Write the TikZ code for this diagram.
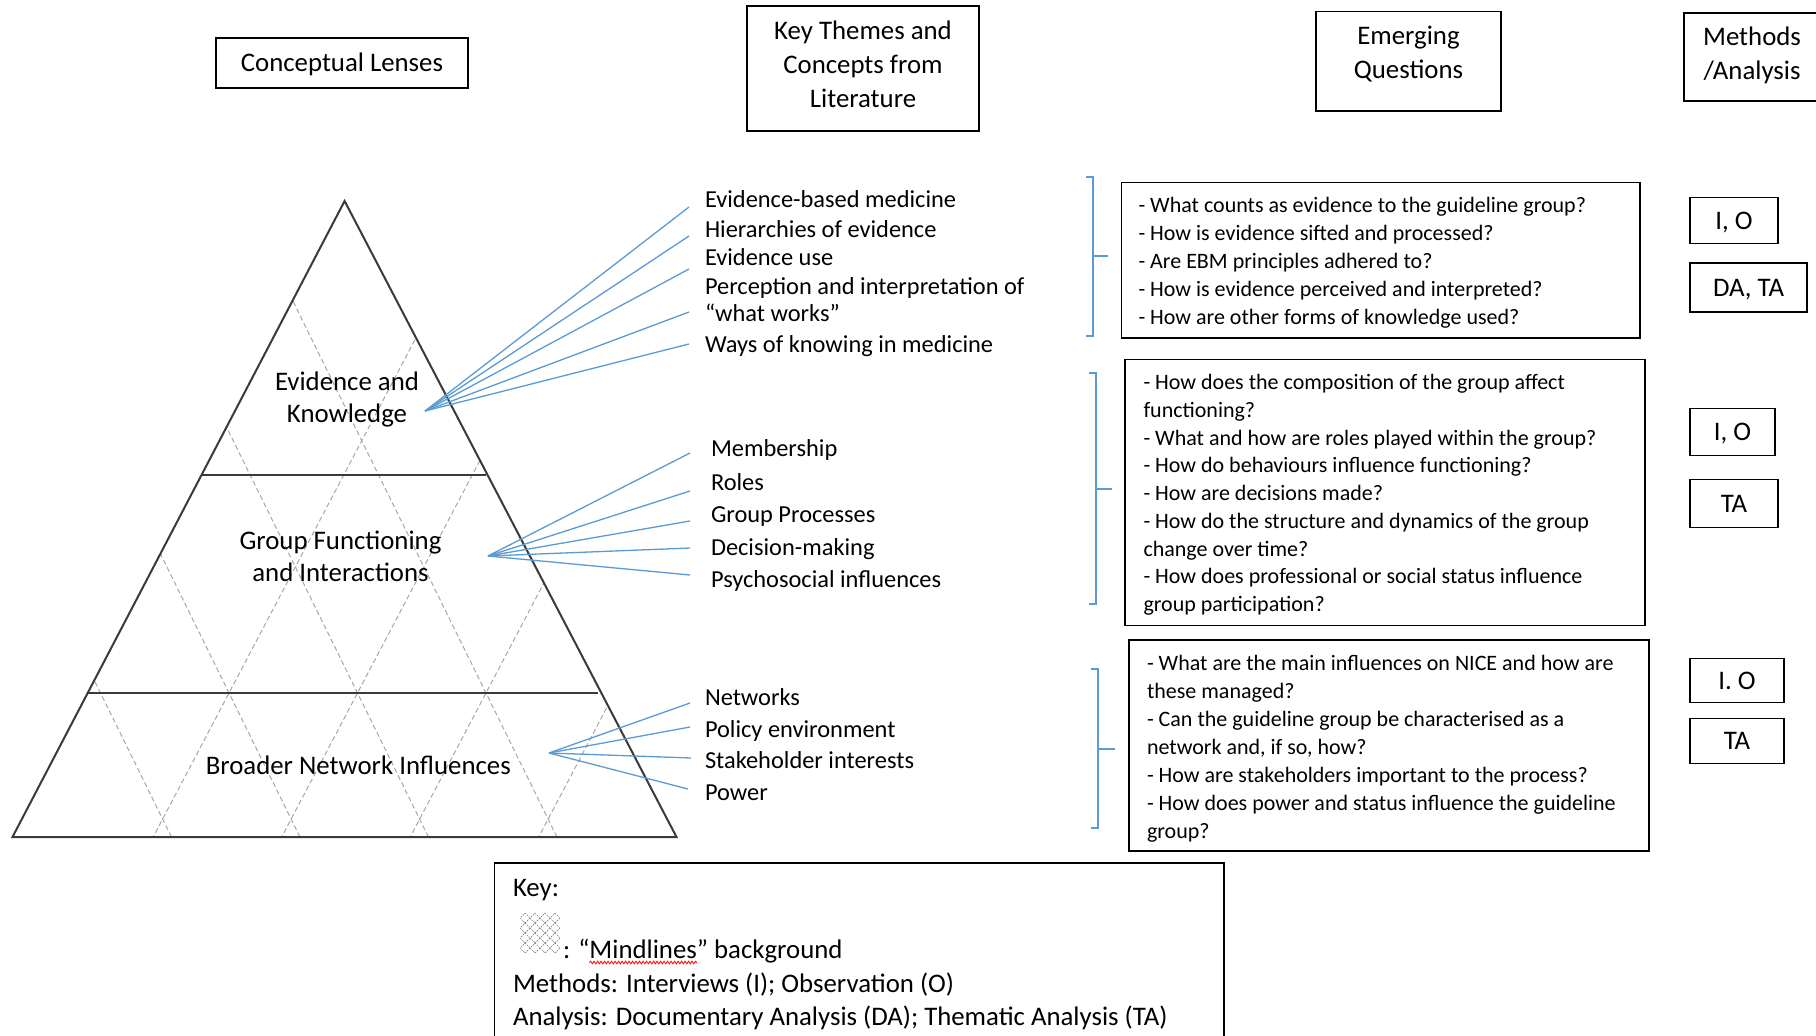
\documentclass[tikz,border=0pt]{standalone}
\usepackage{fontspec}
\setmainfont{Carlito}
\usetikzlibrary{calc,decorations.pathmorphing}

\definecolor{spokeblue}{HTML}{5B9BD5}
\definecolor{trigray}{HTML}{3A3A3A}
\definecolor{meshgray}{HTML}{A8A8A8}

% type sizes (1pt = 1 unit of the drawing grid)
\newcommand{\fontHead}{\fontsize{26.8}{34}\selectfont}
\newcommand{\fontQuest}{\fontsize{22}{27.9}\selectfont}
\newcommand{\fontTheme}{\fontsize{24.4}{30}\selectfont}

\begin{document}
\begin{tikzpicture}[x=1pt,y=-1pt,
  every node/.style={inner sep=0pt, outer sep=0pt},
  boxframe/.style={draw=black, line width=1.5pt},
  capbox/.style={text height=17.6pt, text depth=0pt},
  headtext/.style={font=\fontHead, align=center},
  methodbox/.style={boxframe, capbox, font=\fontHead},
  qline/.style={font=\fontQuest, anchor=base west},
  themeitem/.style={font=\fontTheme, anchor=base west},
  lenstext/.style={font=\fontsize{26.8}{32}\selectfont, align=center},
  keyline/.style={font=\fontHead, anchor=base west},
  triline/.style={draw=trigray, line width=2pt, line join=miter},
  bandline/.style={draw=trigray, line width=2pt},
  meshline/.style={draw=meshgray, line width=1pt, dash pattern=on 5pt off 3pt},
  spoke/.style={draw=spokeblue, line width=1.3pt},
  bracketline/.style={draw=spokeblue, line width=1.4pt},
  keymesh/.style={draw=gray, line width=0.7pt, dash pattern=on 1.5pt off 1pt},
]
\useasboundingbox (0,0) rectangle (1816,1036);
\fill[white] (0,0) rectangle (1816,1036);

% ---------------- headings ----------------
\node[boxframe, capbox, minimum width=252pt, minimum height=50pt, font=\fontHead] (hlens) at (342,63) {Conceptual Lenses};
\node[boxframe, minimum width=232pt, minimum height=125pt] (hlitbox) at (863,68.5) {};
\node[headtext] (hlit) at (863,64.5) {Key Themes and\\Concepts from\\Literature};
\node[boxframe, minimum width=185pt, minimum height=99.6pt] (hquebox) at (1408.5,61.4) {};
\node[headtext] (hque) at (1408.5,54) {Emerging\\Questions};
\node[boxframe, minimum width=136pt, minimum height=88pt] (hmetbox) at (1752,57) {};
\node[headtext] (hmet) at (1752,55.5) {Methods\\/Analysis};

% ---------------- pyramid ----------------
\coordinate (apex) at (344.6,201);
\coordinate (bl) at (12.5,837);
\coordinate (br) at (676.5,837);

% "mindlines" mesh behind the pyramid
\begin{scope}
  \clip (apex) -- (bl) -- (br) -- cycle;
  \foreach \x in {100.5,229,357.5,486}
    \draw[meshline] ({\x-344.8},-7) -- ({\x+147.8},993);
  \foreach \x in {229,357.5,486,614.5}
    \draw[meshline] ({\x+368.4},-7) -- ({\x-157.9},993);
\end{scope}

\draw[triline] (apex) -- (bl) -- (br) -- cycle;
\draw[bandline, shorten >=2pt] ($(apex)!0.4314!(bl)$) -- ($(apex)!0.4314!(br)$);
\draw[bandline, shorten >=3pt] ($(apex)!0.7736!(bl)$) -- ($(apex)!0.7736!(br)$);

\node[lenstext] (lensA) at (347,399) {Evidence and\\Knowledge};
\node[lenstext] (lensB) at (340.5,556) {Group Functioning\\and Interactions};
\node[lenstext] (lensC) at (358.3,765) {Broader Network Influences};

% ---------------- themes ----------------
\node[themeitem] (tA1) at (705,207.5) {Evidence-based medicine};
\node[themeitem] (tA2) at (705,237.3) {Hierarchies of evidence};
\node[themeitem] (tA3) at (705,265.9) {Evidence use};
\node[themeitem] (tA4) at (705,294.3) {Perception and interpretation of};
\node[themeitem] (tA5) at (705,321.8) {“what works”};
\node[themeitem] (tA6) at (705,352.3) {Ways of knowing in medicine};

\node[themeitem] (tB1) at (711,456.5) {Membership};
\node[themeitem] (tB2) at (711,490.1) {Roles};
\node[themeitem] (tB3) at (711,522.5) {Group Processes};
\node[themeitem] (tB4) at (711,555) {Decision-making};
\node[themeitem] (tB5) at (711,587.3) {Psychosocial influences};

\node[themeitem] (tC1) at (705,705.5) {Networks};
\node[themeitem] (tC2) at (705,737.9) {Policy environment};
\node[themeitem] (tC3) at (705,768.1) {Stakeholder interests};
\node[themeitem] (tC4) at (705,800.3) {Power};

% spokes from each lens to its themes
\coordinate (hubA) at (425,411);
\coordinate (hubB) at (488,556);
\coordinate (hubC) at (549,753);
\coordinate (eA1) at (689,207);
\coordinate (eA2) at (689,236);
\coordinate (eA3) at (689,269);
\coordinate (eA4) at (689,312);
\coordinate (eA5) at (689,344);
\coordinate (eB1) at (690,453);
\coordinate (eB2) at (690,491);
\coordinate (eB3) at (690,521);
\coordinate (eB4) at (690,548);
\coordinate (eB5) at (690,575);
\coordinate (eC1) at (690,703);
\coordinate (eC2) at (690,727);
\coordinate (eC3) at (691,758);
\coordinate (eC4) at (688,789);
\foreach \e in {eA1,eA2,eA3,eA4,eA5} \draw[spoke] (hubA) -- (\e);
\foreach \e in {eB1,eB2,eB3,eB4,eB5} \draw[spoke] (hubB) -- (\e);
\foreach \e in {eC1,eC2,eC3,eC4} \draw[spoke] (hubC) -- (\e);

% ---------------- brackets ----------------
\draw[bracketline] (1086,177) -- (1093,177) -- (1093,336) -- (1086,336);
\draw[bracketline] (1093,256) -- (1108,256);
\draw[bracketline] (1089,373) -- (1096,373) -- (1096,604) -- (1089,604);
\draw[bracketline] (1096,489) -- (1112,489);
\draw[bracketline] (1091,669) -- (1098,669) -- (1098,828) -- (1091,828);
\draw[bracketline] (1098,749) -- (1115,749);

% ---------------- questions ----------------
\node[boxframe, minimum width=518.5pt, minimum height=155.5pt] (qbox1) at (1380.75,260.25) {};
\node[boxframe, minimum width=520pt, minimum height=266pt] (qbox2) at (1385,492.5) {};
\node[boxframe, minimum width=520pt, minimum height=211pt] (qbox3) at (1389,745.5) {};

\foreach \t [count=\i] in {
  {- What counts as evidence to the guideline group?},
  {- How is evidence sifted and processed?},
  {- Are EBM principles adhered to?},
  {- How is evidence perceived and interpreted?},
  {- How are other forms of knowledge used?}}
  \node[qline] (qa\i) at (1138.5,{212.4+27.9*(\i-1)}) {\t};

\foreach \t [count=\i] in {
  {- How does the composition of the group affect},
  {functioning?},
  {- What and how are roles played within the group?},
  {- How do behaviours influence functioning?},
  {- How are decisions made?},
  {- How do the structure and dynamics of the group},
  {change over time?},
  {- How does professional or social status influence},
  {group participation?}}
  \node[qline] (qb\i) at (1143.5,{389.6+27.75*(\i-1)}) {\t};

\foreach \t [count=\i] in {
  {- What are the main influences on NICE and how are},
  {these managed?},
  {- Can the guideline group be characterised as a},
  {network and, if so, how?},
  {- How are stakeholders important to the process?},
  {- How does power and status influence the guideline},
  {group?}}
  \node[qline] (qc\i) at (1147,{670+28.05*(\i-1)}) {\t};

% ---------------- methods / analysis ----------------
\node[methodbox, minimum width=88pt, minimum height=46pt] (mA1) at (1734,220.5) {I, O};
\node[methodbox, minimum width=117pt, minimum height=49pt] (mA2) at (1748.5,287.5) {DA, TA};
\node[methodbox, minimum width=85pt, minimum height=47pt] (mB1) at (1732.5,432) {I, O};
\node[methodbox, minimum width=88pt, minimum height=48pt] (mB2) at (1734,503.5) {TA};
\node[methodbox, minimum width=94pt, minimum height=44pt] (mC1) at (1737,680.5) {I. O};
\node[methodbox, minimum width=94pt, minimum height=45pt] (mC2) at (1737,741) {TA};

% ---------------- key ----------------
\node[boxframe, minimum width=729.5pt, minimum height=187pt] (keybox) at (859.25,956.5) {};
\node[keyline] (k1) at (513,896.5) {Key:};
% small diamond mesh sample
\foreach \i in {0,...,3}
  \foreach \j in {0,...,3}
    \draw[keymesh] ({525+10*\i},{913+10*\j}) -- ++(5,5) -- ++(-5,5) -- ++(-5,-5) -- cycle;
\node[keyline] (k2a) at (563,958.5) {: “};
\node[keyline] (k2b) at (k2a.base east) {Mindlines};
\node[keyline] (k2c) at (k2b.base east) {” background};
\draw[red, line width=0.8pt, decorate, decoration={snake, amplitude=1.3pt, segment length=3.5pt}]
  ($(k2b.base west)+(0,4)$) -- ($(k2b.base east)+(0,4)$);
\node[keyline] (k3) at (513,992) {Methods: Interviews (I); Observation (O)};
\node[keyline] (k4) at (513,1025) {Analysis: Documentary Analysis (DA); Thematic Analysis (TA)};

\end{tikzpicture}
\end{document}
